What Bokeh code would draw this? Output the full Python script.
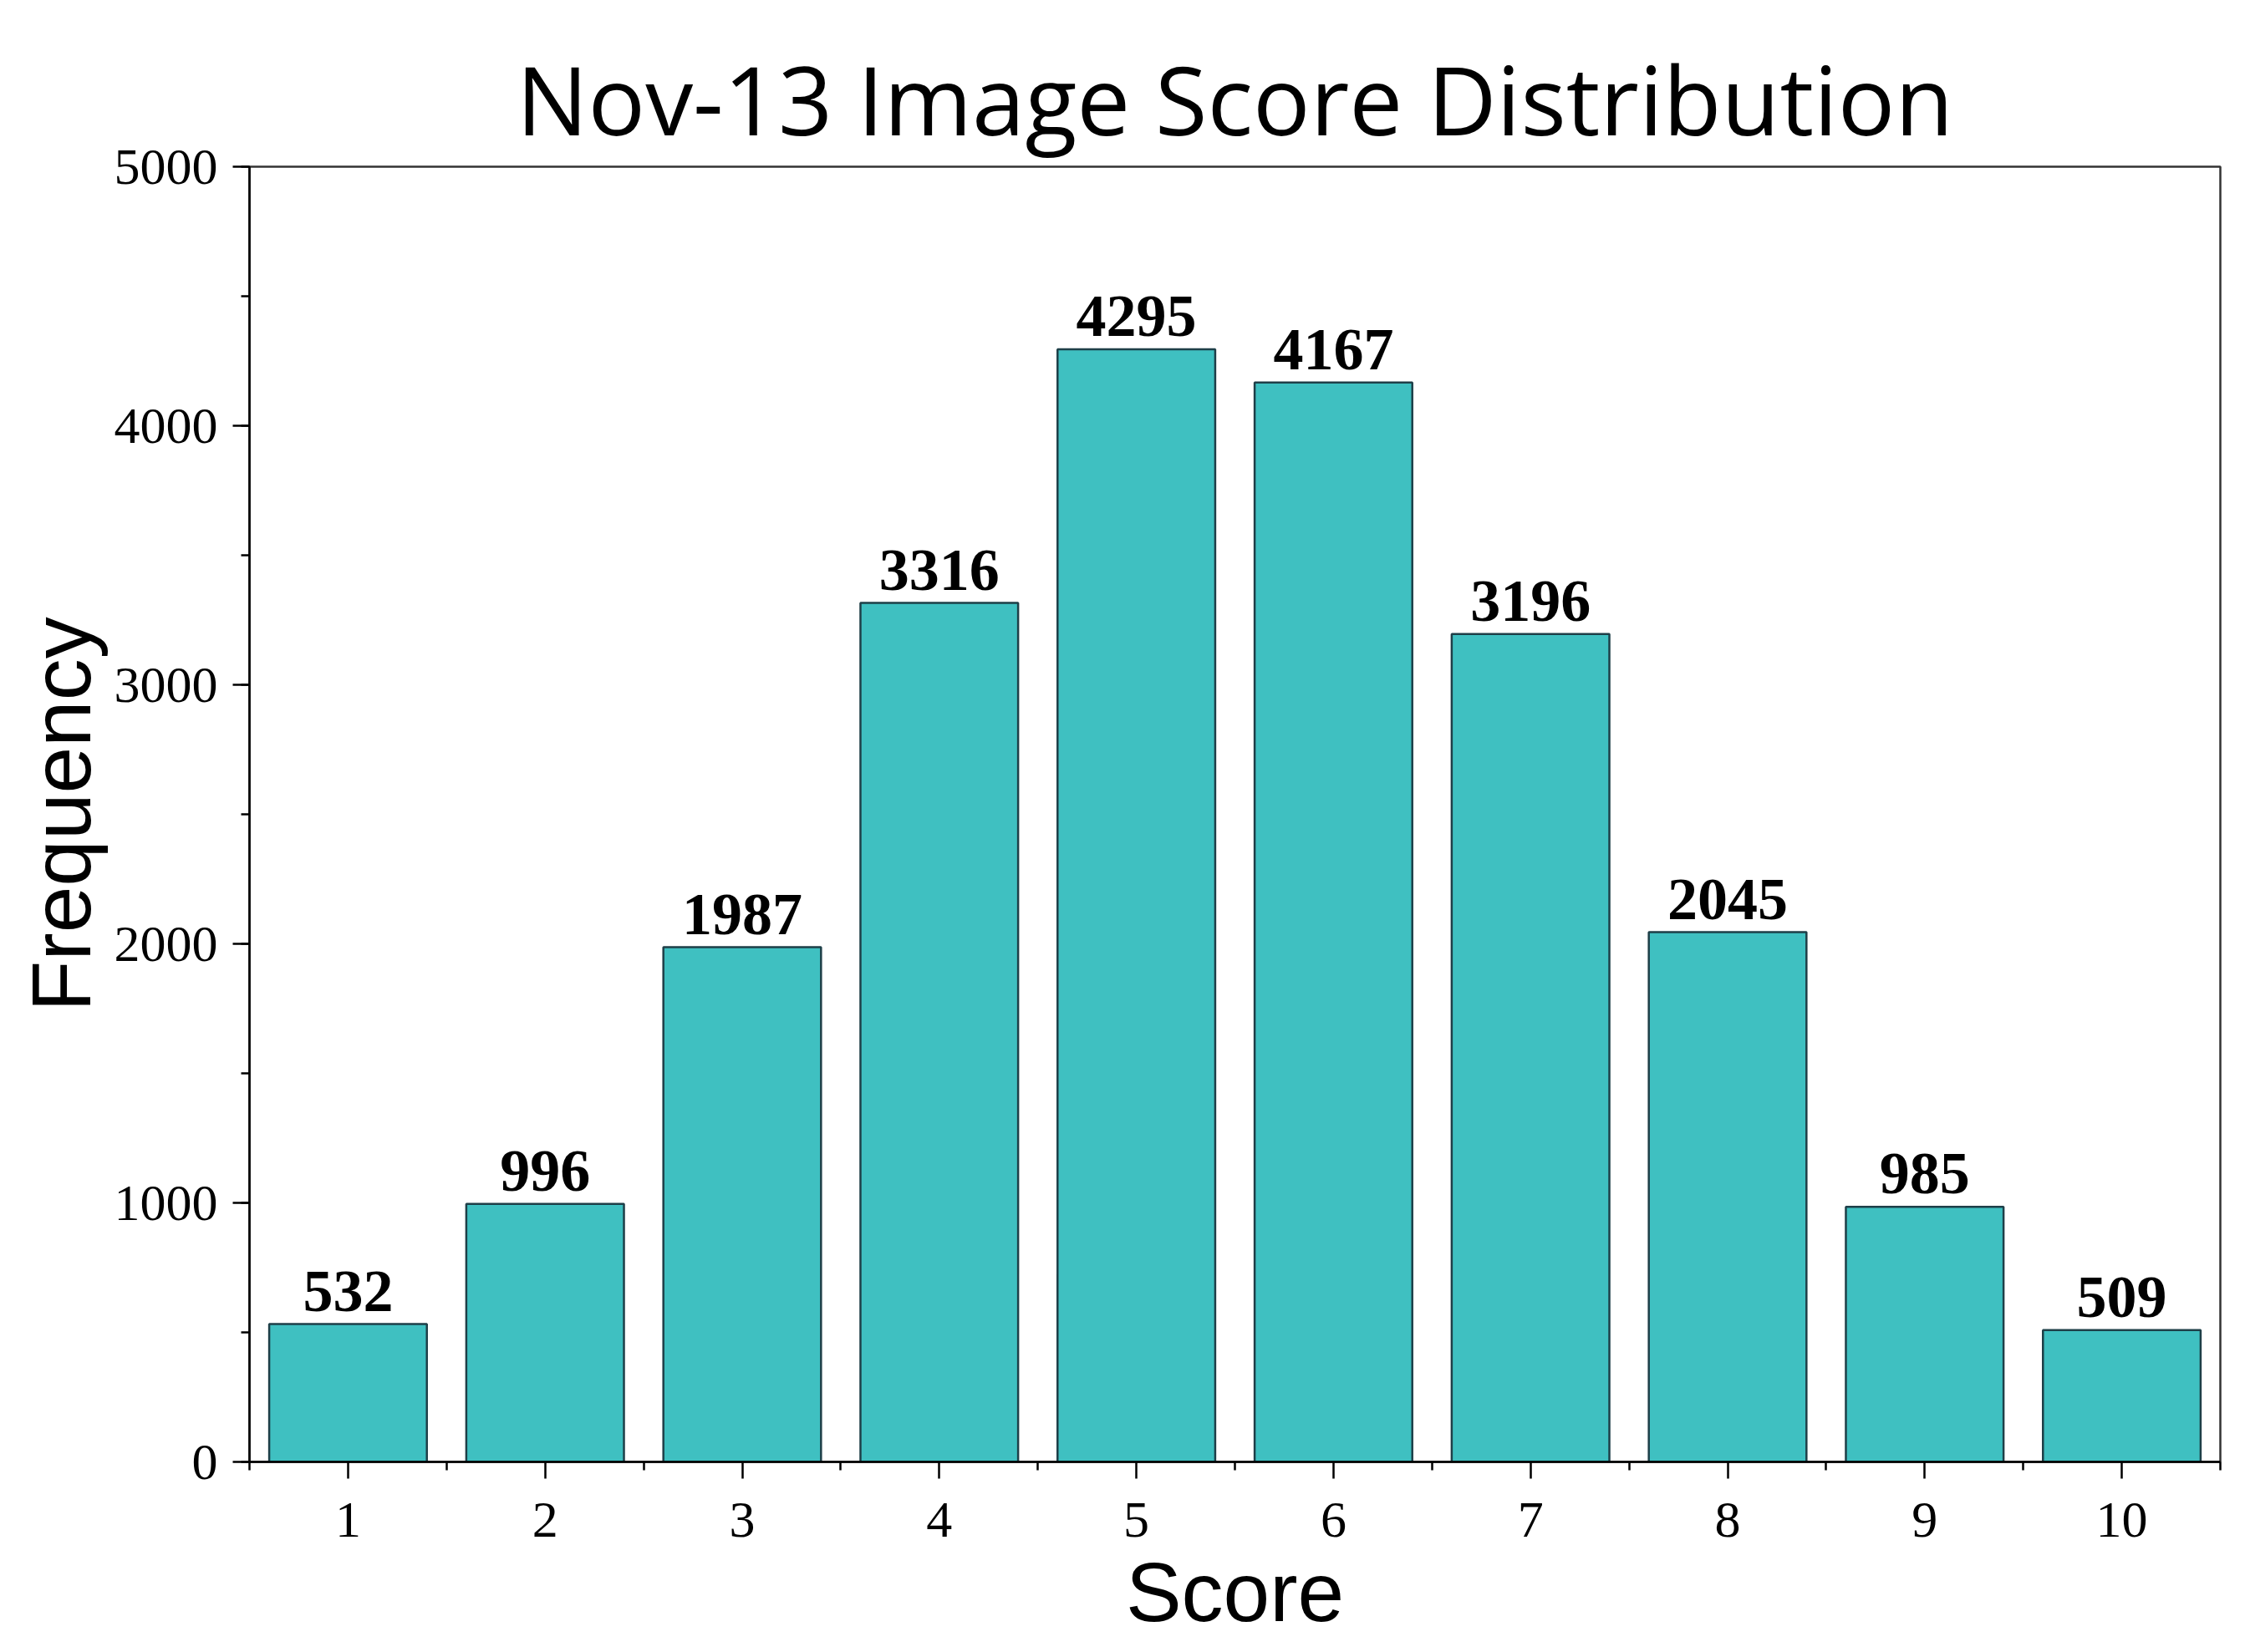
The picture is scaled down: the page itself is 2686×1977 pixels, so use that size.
from bokeh.plotting import figure
from bokeh.models import FixedTicker, ColumnDataSource, Range1d, Title
from bokeh.core.properties import value
from bokeh.embed import file_html
from bokeh.resources import INLINE

scores = [1, 2, 3, 4, 5, 6, 7, 8, 9, 10]
frequencies = [532, 996, 1987, 3316, 4295, 4167, 3196, 2045, 985, 509]
y_ticks = [0, 1000, 2000, 3000, 4000, 5000]
title_text = "Nov-13 Image Score Distribution"
x_label = "Score"
y_label = "Frequency"

src = ColumnDataSource(dict(x=scores, top=frequencies, label=[str(v) for v in frequencies]))

p = figure(width=2678, height=1969, output_backend="svg", toolbar_location=None,
           x_range=Range1d(0.5, 10.5), y_range=Range1d(0, 5000),
           min_border_left=298, min_border_right=22, min_border_top=199, min_border_bottom=220)

p.title.text = title_text
p.title.text_font = "Open Sans"
p.title.text_font_size = "114px"
p.title.text_font_style = "normal"
p.title.text_color = "black"
p.title.align = "center"

p.vbar(x="x", top="top", width=0.8, source=src, fill_color="#3FC0C1",
       line_color="#1E3F48", line_width=2.5)
p.text(x="x", y="top", text="label", source=src, text_align="center",
       text_baseline="bottom", y_offset=-16, text_font=value("Liberation Serif"),
       text_font_style="bold", text_font_size="72px", text_color="black")

p.xgrid.visible = False
p.ygrid.visible = False
p.outline_line_color = "#333333"
p.outline_line_width = 2.5

xa = p.xaxis[0]
xa.ticker = FixedTicker(ticks=scores, minor_ticks=[s - 0.5 for s in scores] + [scores[-1] + 0.5])
ya = p.yaxis[0]
ya.ticker = FixedTicker(ticks=y_ticks, minor_ticks=list(range(0, 5001, 500)))

for ax in (xa, ya):
    ax.axis_line_color = "black"
    ax.axis_line_width = 2.5
    ax.major_tick_line_color = "black"
    ax.major_tick_line_width = 2.5
    ax.minor_tick_line_color = "black"
    ax.minor_tick_line_width = 2.5
    ax.major_tick_in = 0
    ax.major_tick_out = 20
    ax.minor_tick_in = 0
    ax.minor_tick_out = 10
    ax.major_label_text_font = "Liberation Serif"
    ax.major_label_text_font_size = "62px"
    ax.major_label_text_color = "black"

xa.major_label_standoff = 29
ya.major_label_standoff = 18

xt = Title(text=x_label, align="center", text_font="Liberation Sans", text_font_style="normal",
           text_font_size="100px", text_color="black")
yt = Title(text=y_label, align="center", text_font="Liberation Sans", text_font_style="normal",
           text_font_size="100px", text_color="black")
p.add_layout(xt, "below")
p.add_layout(yt, "left")

open("out.html", "w").write(file_html(p, INLINE))
